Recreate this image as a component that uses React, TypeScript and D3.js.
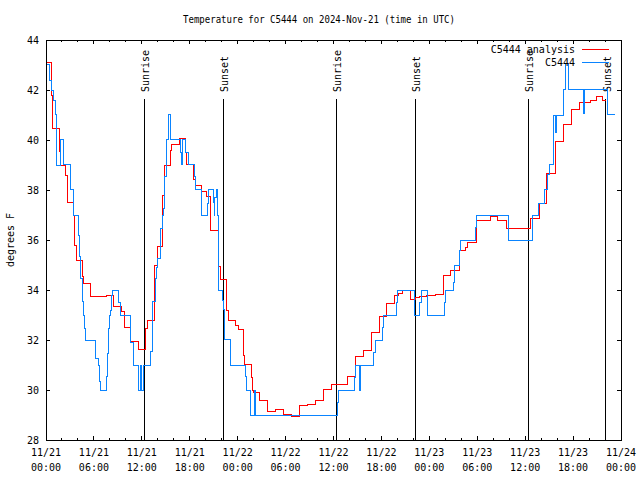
import React from "react";
import * as d3 from "d3";

const titleText = "Temperature for C5444 on 2024-Nov-21 (time in UTC)";
const yLabel = "degrees F";
const seriesNames = ["C5444 analysis", "C5444"];
const seriesColors = ["#ff0000", "#0a84ff"];

// hours since 2024-11-21 00:00 UTC
const analysisHours = [0, 0.71, 0.84, 1.63, 1.84, 2.5, 2.67, 3.42, 3.63, 3.76, 4.55, 4.67, 5.51, 6.64, 7.6, 8.51, 9.48, 9.77, 10.61, 11.56, 12.52, 12.65, 13.56, 13.94, 14.56, 14.81, 15.62, 15.74, 16.69, 17.41, 17.62, 18.44, 18.66, 19.5, 20.04, 20.66, 21.58, 21.66, 21.88, 22.63, 22.83, 23.79, 24.08, 24.71, 24.83, 25.76, 25.83, 25.96, 26.71, 27.76, 28.76, 29.72, 30.77, 31.72, 32.77, 33.77, 34.81, 35.78, 37.73, 38.78, 39.73, 40.78, 41.82, 42.66, 43.58, 44.08, 44.67, 45.67, 46.21, 46.83, 47.67, 48.71, 49.75, 50.68, 51.76, 52.47, 52.76, 53.85, 55.6, 56.51, 57.6, 60.7, 61.77, 62.61, 62.7, 63.74, 64.78, 65.74, 65.83, 66.78, 67.41, 68.12, 68.87, 69.71, 70.06];
const analysisTemps = [43.1, 41.8, 40.47, 39.53, 39.0, 38.6, 37.5, 37.0, 35.8, 35.2, 34.53, 34.27, 33.76, 33.73, 33.8, 33.36, 33.13, 32.5, 31.96, 31.64, 32.47, 32.8, 35.0, 35.73, 37.8, 39.0, 39.6, 39.84, 40.07, 39.5, 39.04, 38.43, 38.2, 37.93, 37.73, 36.4, 35.88, 34.93, 34.43, 33.2, 32.8, 32.6, 32.43, 31.4, 31.04, 30.5, 29.97, 29.9, 29.57, 29.16, 29.23, 29.03, 28.96, 29.39, 29.44, 29.6, 30.03, 30.24, 30.56, 31.33, 31.6, 32.31, 32.96, 33.47, 33.77, 33.85, 34.0, 33.63, 33.7, 33.73, 33.77, 33.83, 34.6, 34.8, 35.6, 35.7, 35.9, 36.77, 36.96, 36.77, 36.47, 36.87, 37.47, 38.03, 38.67, 39.96, 40.63, 40.87, 41.24, 41.51, 41.5, 41.6, 41.76, 41.6, 41.6];

const obsHours = [0, 0.41, 0.71, 0.91, 1.13, 1.34, 1.84, 2.17, 3.01, 3.13, 3.42, 4.04, 4.17, 4.38, 4.55, 4.67, 4.88, 4.97, 6.22, 6.55, 6.67, 6.85, 7.6, 7.68, 7.8, 7.93, 8.1, 8.23, 8.35, 9.14, 9.35, 10.52, 10.64, 10.93, 11.56, 11.81, 11.98, 12.18, 13.11, 13.36, 13.65, 13.77, 13.86, 13.99, 14.28, 14.36, 14.56, 14.69, 14.78, 14.9, 15.03, 15.11, 15.4, 15.53, 16.78, 16.99, 17.07, 17.12, 17.53, 17.82, 18.57, 18.66, 19.45, 19.5, 20.2, 20.37, 20.95, 21.04, 21.16, 21.29, 21.5, 21.58, 21.66, 22.08, 22.2, 22.29, 22.41, 23.04, 23.13, 25.01, 25.13, 25.55, 26.05, 26.26, 36.48, 36.6, 38.66, 38.73, 39.23, 39.41, 41.07, 41.2, 42.11, 42.24, 43.83, 43.99, 46.08, 46.17, 46.83, 46.96, 47.75, 47.8, 49.88, 50.0, 51.0, 51.09, 51.72, 51.84, 53.81, 53.85, 57.89, 60.9, 60.95, 61.73, 62.48, 62.77, 62.99, 63.53, 63.61, 63.8, 63.9, 64.86, 65.11, 65.4, 67.28, 67.37, 70.28, 71.25];
const obsTemps = [43.04, 42.4, 42.0, 41.6, 41.04, 39.0, 40.03, 39.04, 38.53, 38.03, 37.0, 36.2, 35.33, 34.47, 33.53, 33.0, 32.47, 32.0, 31.27, 31.0, 30.33, 30.0, 30.53, 31.47, 32.47, 33.0, 33.2, 33.8, 34.0, 33.5, 33.0, 32.4, 31.9, 31.0, 30.0, 31.0, 30.0, 31.0, 31.53, 33.53, 34.0, 34.47, 34.9, 35.27, 35.7, 36.47, 37.0, 37.27, 38.0, 38.56, 39.53, 40.03, 41.04, 40.03, 39.5, 39.04, 39.8, 40.03, 39.5, 39.04, 38.53, 38.03, 37.53, 37.0, 37.47, 38.03, 37.5, 37.0, 37.7, 38.03, 37.0, 35.5, 34.0, 33.6, 33.23, 32.5, 32.03, 31.5, 31.0, 30.53, 30.0, 29.0, 30.0, 29.0, 29.5, 30.0, 30.5, 31.0, 30.0, 31.0, 31.5, 32.0, 32.5, 33.0, 33.5, 33.97, 33.5, 33.0, 33.5, 34.0, 33.5, 33.0, 33.5, 34.0, 34.3, 35.0, 35.6, 35.97, 36.5, 36.97, 36.0, 36.5, 36.97, 37.47, 38.03, 38.64, 39.04, 40.0, 41.0, 40.3, 41.0, 42.03, 43.07, 42.03, 41.07, 42.03, 41.04, 41.04];

const sunEventLabels = ["Sunrise", "Sunset", "Sunrise", "Sunset", "Sunrise", "Sunset"];
const sunEventHours = [12.31, 22.2, 36.35, 46.24, 60.39, 70.12];

const yTicks = [28, 30, 32, 34, 36, 38, 40, 42, 44];
const xMajorHours = [0, 6, 12, 18, 24, 30, 36, 42, 48, 54, 60, 66, 72];
const xTickDates = ["11/21", "11/21", "11/21", "11/21", "11/22", "11/22", "11/22", "11/22", "11/23", "11/23", "11/23", "11/23", "11/24"];
const xTickTimes = ["00:00", "06:00", "12:00", "18:00", "00:00", "06:00", "12:00", "18:00", "00:00", "06:00", "12:00", "18:00", "00:00"];

const W = 640, H = 480;
const L = 46, R = 621, T = 40, B = 440;
const FONT = "'DejaVu Sans Mono', monospace";

export default function App() {
  const x = d3.scaleLinear().domain([0, 72]).range([L, R]);
  const y = d3.scaleLinear().domain([28, 44]).range([B, T]);
  const line = d3.line<[number, number]>().x(d => x(d[0])).y(d => y(d[1])).curve(d3.curveStepAfter);
  const redPts = analysisHours.map((h, i) => [h, analysisTemps[i]] as [number, number]);
  const bluePts = obsHours.map((h, i) => [h, obsTemps[i]] as [number, number]);
  const minorHours = d3.range(0, 73, 2).filter(h => h % 6 !== 0);

  return (
    <svg width={W} height={H} style={{ position: "absolute", left: 0, top: 0, background: "#fff" }}
      fontFamily={FONT} fontSize={10}>
      <rect x={0} y={0} width={W} height={H} fill="#fff" />
      <text x={319} y={23} textAnchor="middle" textLength={272} lengthAdjust="spacingAndGlyphs">{titleText}</text>
      <text transform={`translate(14,${240}) rotate(-90)`} textAnchor="middle">{yLabel}</text>
      <g shapeRendering="crispEdges" stroke="#000" strokeWidth={1}>
        {yTicks.map(t => (
          <g key={"y" + t}>
            <line x1={L} x2={L + 4} y1={y(t)} y2={y(t)} />
            <line x1={R} x2={R - 4} y1={y(t)} y2={y(t)} />
          </g>
        ))}
        {xMajorHours.map(h => (
          <g key={"xm" + h}>
            <line x1={x(h)} x2={x(h)} y1={B} y2={B - 4} />
            <line x1={x(h)} x2={x(h)} y1={T} y2={T + 4} />
          </g>
        ))}
        {minorHours.map(h => (
          <g key={"xn" + h}>
            <line x1={x(h)} x2={x(h)} y1={B} y2={B - 2} />
            <line x1={x(h)} x2={x(h)} y1={T} y2={T + 2} />
          </g>
        ))}
      </g>
      {yTicks.map(t => (
        <text key={"yl" + t} x={39} y={y(t) + 4} textAnchor="end">{t}</text>
      ))}
      {xMajorHours.map((h, i) => (
        <g key={"xl" + h}>
          <text x={x(h)} y={456} textAnchor="middle">{xTickDates[i]}</text>
          <text x={x(h)} y={471} textAnchor="middle">{xTickTimes[i]}</text>
        </g>
      ))}
      {sunEventHours.map((h, i) => (
        <g key={"sun" + i}>
          <line x1={x(h)} x2={x(h)} y1={99} y2={B} stroke="#000" strokeWidth={1} shapeRendering="crispEdges" />
          <text transform={`translate(${x(h) + 5},92) rotate(-90)`} textAnchor="start">{sunEventLabels[i]}</text>
        </g>
      ))}
      <path d={line(redPts) || ""} fill="none" stroke={seriesColors[0]} strokeWidth={1} shapeRendering="crispEdges" />
      <path d={line(bluePts) || ""} fill="none" stroke={seriesColors[1]} strokeWidth={1} shapeRendering="crispEdges" />
      <text x={575} y={53} textAnchor="end">{seriesNames[0]}</text>
      <line x1={582} x2={609} y1={49} y2={49} stroke={seriesColors[0]} shapeRendering="crispEdges" />
      <text x={575} y={66} textAnchor="end">{seriesNames[1]}</text>
      <line x1={582} x2={609} y1={62} y2={62} stroke={seriesColors[1]} shapeRendering="crispEdges" />
      <rect x={L} y={T} width={R - L} height={B - T} fill="none" stroke="#000" strokeWidth={1} shapeRendering="crispEdges" />
    </svg>
  );
}
